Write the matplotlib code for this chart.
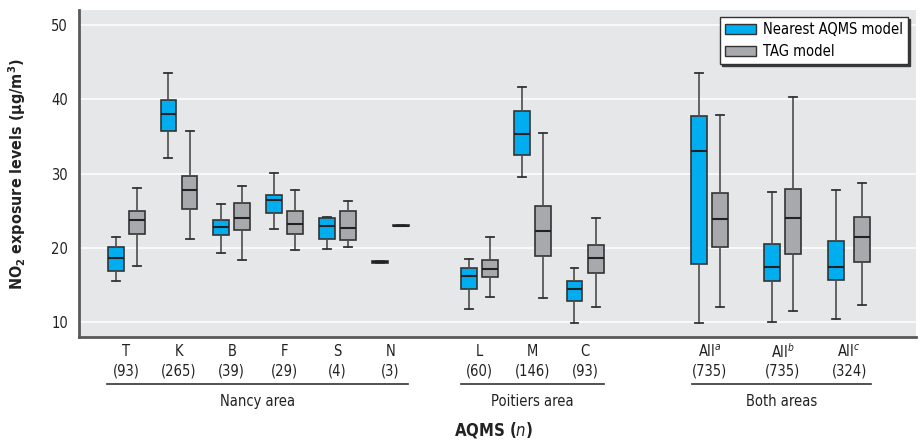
import matplotlib
matplotlib.use('Agg')
import matplotlib.pyplot as plt
from matplotlib import font_manager as fm
from matplotlib.patches import Patch
import matplotlib.transforms as mtransforms

# ---------------- data ----------------
stations = ['T', 'K', 'B', 'F', 'S', 'N', 'L', 'M', 'C',
            'All$^{a}$', 'All$^{b}$', 'All$^{c}$']
n_counts = [93, 265, 39, 29, 4, 3, 60, 146, 93, 735, 735, 324]

# Nearest AQMS model: whislo, q1, median, q3, whishi
aqms_lo  = [15.53, 32.09, 19.23, 22.47, 19.85, 17.95, 11.67, 29.57, 9.82, 9.82, 9.96, 10.32]
aqms_q1  = [16.88, 35.74, 21.66, 24.63, 21.20, 17.95, 14.41, 32.50, 12.83, 17.83, 15.49, 15.63]
aqms_med = [18.64, 37.99, 22.82, 26.38, 22.96, 18.08, 16.13, 35.33, 14.45, 33.04, 17.42, 17.42]
aqms_q3  = [20.04, 39.88, 23.77, 27.06, 23.95, 18.20, 17.25, 38.43, 15.53, 37.80, 20.49, 20.85]
aqms_hi  = [21.39, 43.56, 25.92, 30.07, 24.17, 18.20, 18.50, 41.67, 17.29, 43.52, 27.54, 27.73]

# TAG model
tag_lo  = [17.56, 21.12, 18.37, 19.72, 20.12, 22.85, 13.37, 13.16, 11.98, 11.98, 11.48, 12.29]
tag_q1  = [21.80, 25.21, 22.38, 21.84, 21.07, 22.85, 15.99, 18.91, 16.53, 20.04, 19.18, 18.10]
tag_med = [23.72, 27.73, 24.04, 23.23, 22.65, 22.97, 17.11, 22.20, 18.60, 23.86, 24.04, 21.39]
tag_q3  = [24.90, 29.62, 25.98, 24.90, 24.94, 23.10, 18.33, 25.57, 20.31, 27.33, 27.91, 24.17]
tag_hi  = [28.08, 35.78, 28.35, 27.73, 26.33, 23.10, 21.43, 35.50, 24.04, 37.94, 40.36, 28.68]

areas = ['Nancy area', 'Poitiers area', 'Both areas']
series_names = ['Nearest AQMS model', 'TAG model']
y_ticks = [10, 20, 30, 40, 50]

# ---------------- layout ----------------
group_pos = [0, 1, 2, 3, 4, 5, 6.69, 7.69, 8.69, 11.05, 12.43, 13.69]
half_gap = [0.2] * 11 + [0.25]
area_spans = [(-0.36, 5.34), (6.35, 9.04), (10.71, 14.10)]

names = {f.name for f in fm.fontManager.ttflist}
if 'Liberation Sans Narrow' in names:
    FAM = 'Liberation Sans Narrow'
    STR = 'normal'
else:
    FAM = 'DejaVu Sans'
    STR = 'condensed'
plt.rcParams['font.family'] = [FAM, 'DejaVu Sans']
plt.rcParams['font.stretch'] = STR
plt.rcParams['mathtext.fontset'] = 'custom'
plt.rcParams['mathtext.rm'] = FAM
plt.rcParams['mathtext.it'] = FAM + ':italic'
plt.rcParams['mathtext.bf'] = FAM + ':bold'

BLUE = '#00aeef'
GREY = '#a7a9ac'
BG = '#e6e7e8'
EDGE = '#333333'
WHISK = '#4d4d4d'
TXT = '#222222'

fig = plt.figure(figsize=(9.21, 4.44), dpi=100)
ax = fig.add_axes([0.0861, 0.2403, 0.9085, 0.7372])
ax.set_facecolor(BG)


def stats(lo, q1, med, q3, hi):
    return [dict(whislo=a, q1=b, med=c, q3=d, whishi=e, fliers=[])
            for a, b, c, d, e in zip(lo, q1, med, q3, hi)]


common = dict(widths=0.30, patch_artist=True, showfliers=False,
              medianprops=dict(color='#222222', lw=1.5),
              whiskerprops=dict(color=WHISK, lw=1.2),
              capprops=dict(color='#333333', lw=1.3),
              capwidths=0.15)

pos_a = [p - h for p, h in zip(group_pos, half_gap)]
pos_t = [p + h for p, h in zip(group_pos, half_gap)]
ax.bxp(stats(aqms_lo, aqms_q1, aqms_med, aqms_q3, aqms_hi), positions=pos_a,
       boxprops=dict(facecolor=BLUE, edgecolor=EDGE, lw=1.2), **common)
ax.bxp(stats(tag_lo, tag_q1, tag_med, tag_q3, tag_hi), positions=pos_t,
       boxprops=dict(facecolor=GREY, edgecolor=EDGE, lw=1.2), **common)

ax.set_xlim(-0.888, 14.958)
ax.set_ylim(7.89, 52.07)
ax.set_yticks(y_ticks)
ax.set_yticklabels([str(v) for v in y_ticks], fontsize=10.5, color=TXT)
ax.yaxis.grid(True, color='white', lw=1.1)
ax.set_axisbelow(True)
ax.tick_params(axis='both', length=0)
ax.tick_params(axis='y', pad=8)

ax.set_xticks(group_pos)
ax.set_xticklabels([])

trans = mtransforms.blended_transform_factory(ax.transData, ax.transAxes)
for x, s, n in zip(group_pos, stations, n_counts):
    ax.text(x, -0.044, s, transform=trans, ha='center', va='center',
            fontsize=10.5, color=TXT)
    ax.text(x, -0.102, f'({n})', transform=trans, ha='center', va='center',
            fontsize=10.5, color=TXT)

for side in ['top', 'right']:
    ax.spines[side].set_visible(False)
for side in ['left', 'bottom']:
    ax.spines[side].set_color('#58595b')
    ax.spines[side].set_linewidth(2)

ax.set_ylabel('NO$_\\mathbf{2}$ exposure levels (µg/m$^\\mathbf{3}$)',
              fontsize=11.5, fontweight='bold', color=TXT)
ax.yaxis.set_label_coords(-0.061, 0.5)

for name, (x0, x1) in zip(areas, area_spans):
    ax.plot([x0, x1], [-0.1427, -0.1427], color='#333333', lw=1.2,
            transform=trans, clip_on=False)
    ax.text((x0 + x1) / 2, -0.1955, name, transform=trans, ha='center', va='center',
            fontsize=10.5, color=TXT)

ax.text(0.495, -0.283, 'AQMS ($\\mathbf{\\mathit{n}}$)', transform=ax.transAxes,
        ha='center', va='center', fontsize=12, fontweight='bold', color=TXT)

handles = [Patch(facecolor=BLUE, edgecolor=EDGE, lw=1.0),
           Patch(facecolor=GREY, edgecolor=EDGE, lw=1.0)]
leg = ax.legend(handles, series_names, loc='upper right', fontsize=10.5,
                frameon=True, fancybox=False, edgecolor='#333333',
                framealpha=1, shadow={'ox': 1.6, 'oy': -1.6, 'color': '#3a3a3a', 'alpha': 1},
                handlelength=2.1, handleheight=0.7, handletextpad=0.45,
                borderpad=0.35, labelspacing=0.45, borderaxespad=0.0,
                bbox_to_anchor=(0.99, 0.978))
leg.get_frame().set_linewidth(1.0)

fig.savefig('out.png', dpi=100)
